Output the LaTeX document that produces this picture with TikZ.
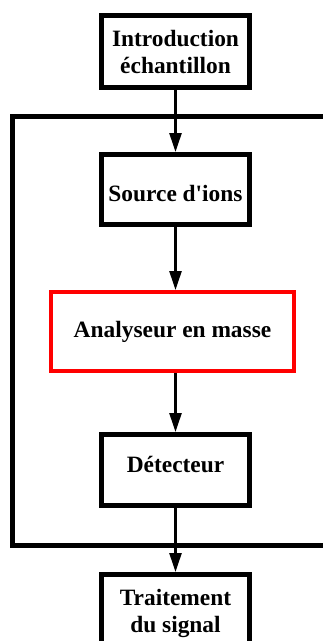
\documentclass[tikz,border=0pt]{standalone}
\usepackage{fontspec}
\setmainfont{Liberation Serif}
\usetikzlibrary{arrows.meta}
\tikzset{>={Triangle[length=19pt,width=12pt]}}
\tikzset{bloc/.style={draw, line width=5pt, minimum width=148pt, align=center, inner sep=0pt,
    font=\bfseries\fontsize{23.4}{27}\selectfont}}
\tikzset{fleche/.style={->, line width=2.5pt}}

\begin{document}
\begin{tikzpicture}[x=1pt,y=-1pt]
        \useasboundingbox (0,0) rectangle (323,641);
        % Blocs
        \node[bloc, minimum height=72pt] (intro) at (175.5,51.5) {Introduction\\échantillon};
        \node[bloc, minimum height=70pt, text height=23.6pt, text depth=0pt] (source) at (175.5,189.5) {Source d\textquotesingle ions};
        \node[bloc, draw=red, line width=4pt, minimum width=243pt, minimum height=79pt] (analyseur) at (172.5,331.5) {Analyseur en masse};
        \node[bloc, minimum height=71pt, text height=10pt, text depth=6pt] (detecteur) at (175.5,470) {Détecteur};
        \node[bloc, minimum height=78pt] (traitement) at (175.5,613.5) {Traitement\\du signal};

        % Cadre
        \draw [line width=5pt] (335,116.5) -- (12.5,116.5) -- (12.5,545) -- (335,545);

        % Fleches
        \draw [fleche] (intro.south) -- (source.north);
        \draw [fleche] (source.south) -- (source.south |- analyseur.north);
        \draw [fleche] (source.south |- analyseur.south) -- (detecteur.north);
        \draw [fleche] (detecteur.south) -- (traitement.north);
      \end{tikzpicture}
\end{document}
